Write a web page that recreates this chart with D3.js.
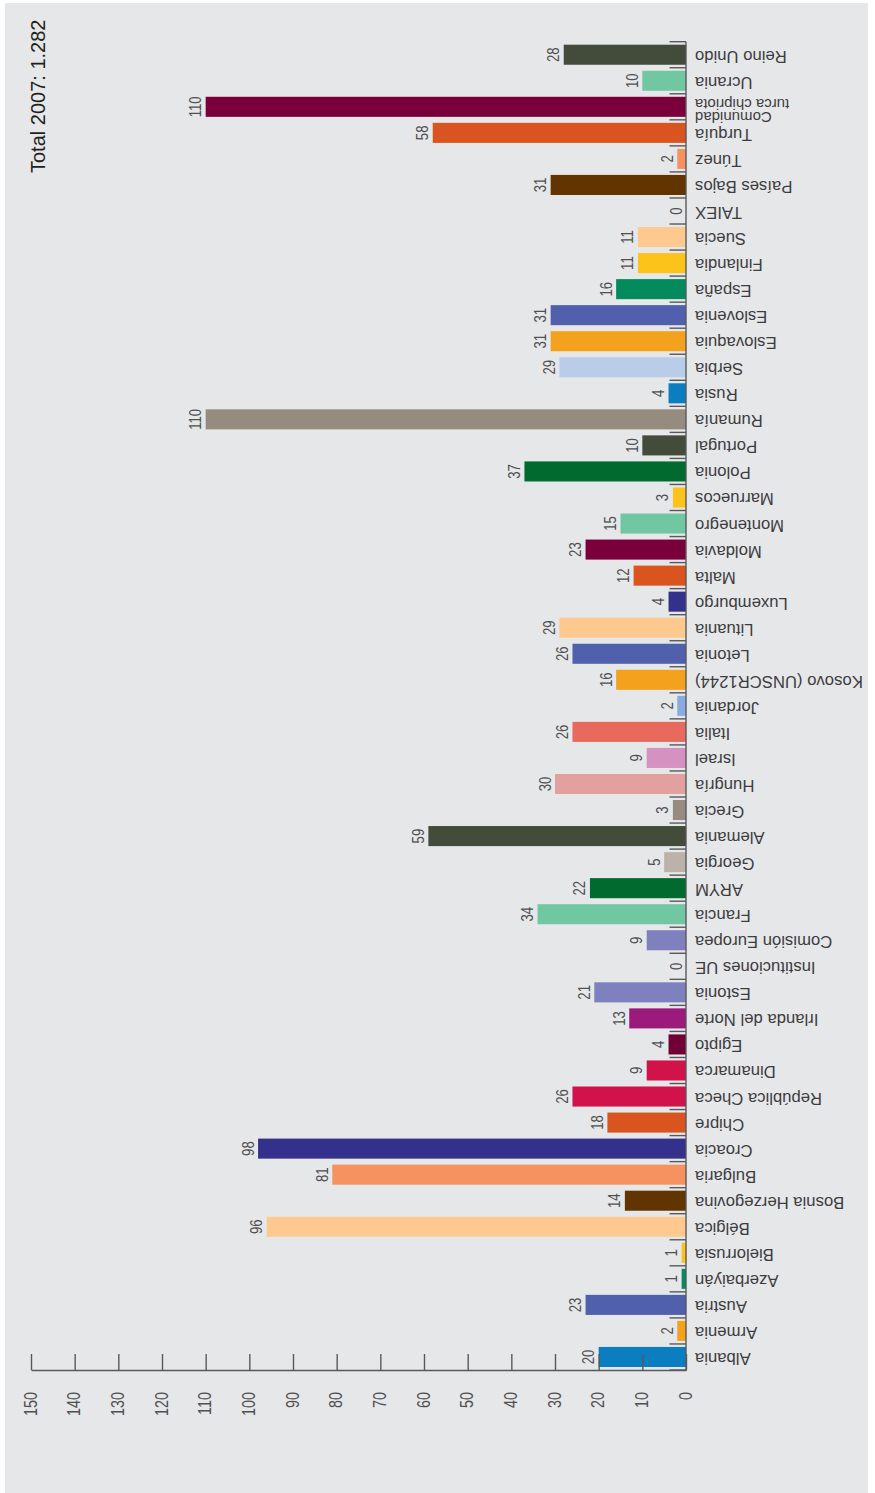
<!DOCTYPE html>
<html>
<head>
<meta charset="utf-8">
<script src="https://cdn.jsdelivr.net/npm/d3@7"></script>
<style>
  html, body { margin: 0; padding: 0; background: #ffffff; }
  svg { display: block; }
  text { font-family: "Liberation Sans", Arial, sans-serif; }
</style>
</head>
<body>
<svg id="chart" width="875" height="1493"></svg>
<script>
// Participantes por país / institución, 2007
const categories = [
  "Albania", "Armenia", "Austria", "Azerbaiyán", "Bielorrusia", "Bélgica",
  "Bosnia Herzegovina", "Bulgaria", "Croacia", "Chipre", "República Checa",
  "Dinamarca", "Egipto", "Irlanda del Norte", "Estonia", "Instituciones UE",
  "Comisión Europea", "Francia", "ARYM", "Georgia", "Alemania", "Grecia",
  "Hungría", "Israel", "Italia", "Jordania", "Kosovo (UNSCR1244)", "Letonia",
  "Lituania", "Luxemburgo", "Malta", "Moldavia", "Montenegro", "Marruecos",
  "Polonia", "Portugal", "Rumanía", "Rusia", "Serbia", "Eslovaquia",
  "Eslovenia", "España", "Finlandia", "Suecia", "TAIEX", "Países Bajos",
  "Túnez", "Turquía", "Comunidad\nturca chipriota", "Ucrania", "Reino Unido"
];

const values = [
  20, 2, 23, 1, 1, 96,
  14, 81, 98, 18, 26,
  9, 4, 13, 21, 0,
  9, 34, 22, 5, 59, 3,
  30, 9, 26, 2, 16, 26,
  29, 4, 12, 23, 15, 3,
  37, 10, 110, 4, 29, 31,
  31, 16, 11, 11, 0, 31,
  2, 58, 110, 10, 28
];

const colors = [
  "#0b7dc1", "#f4a11d", "#5060ac", "#038b5e", "#fcc31a", "#fdc98f",
  "#623400", "#f69160", "#33318b", "#da541f", "#d2124a",
  "#d2124a", "#700035", "#9d1a7d", "#7f81be", "#7f81be",
  "#7f81be", "#72c7a3", "#016b2f", "#bcb2a9", "#434b3a", "#968b7f",
  "#e2a19f", "#d591bf", "#e86a5c", "#89acde", "#f4a11d", "#5060ac",
  "#fdc98f", "#33318b", "#da541f", "#7a003b", "#72c7a3", "#fcc31a",
  "#016b2f", "#434b3a", "#968b7f", "#0b7dc1", "#b9cde9", "#f4a11d",
  "#5060ac", "#038b5e", "#fcc31a", "#fdc98f", "#fdc98f", "#623400",
  "#f69160", "#da541f", "#7a003b", "#72c7a3", "#434b3a"
];

const axisTicks = [0, 10, 20, 30, 40, 50, 60, 70, 80, 90, 100, 110, 120, 130, 140, 150];
const title = "Total 2007: 1.282";

const data = categories.map((c, i) => ({ cat: c, value: values[i], color: colors[i] }));

const svg = d3.select("#chart");

// panel background
svg.append("rect")
  .attr("x", 5).attr("y", 3)
  .attr("width", 863).attr("height", 1490)
  .attr("fill", "#e6e7e9");

// value axis runs right-to-left, categories run bottom-to-top
const x = d3.scaleLinear().domain([0, 150]).range([686, 31]);
const y = d3.scaleBand()
  .domain(categories)
  .range([1370, 41.7])
  .paddingInner(0.23)
  .paddingOuter(0.115);

const axisColor = "#58595b";
const narrow = 0.82;

// small separators between categories along the baseline
const step = y.step();
const boundaries = d3.range(categories.length + 1).map(i => 1370 - i * step);
svg.append("g")
  .selectAll("line")
  .data(boundaries)
  .join("line")
  .attr("x1", x(0) - 16.5).attr("x2", x(0))
  .attr("y1", d => d).attr("y2", d => d)
  .attr("stroke", axisColor)
  .attr("stroke-width", 1.4);

// bars
svg.append("g")
  .selectAll("rect")
  .data(data.filter(d => d.value > 0))
  .join("rect")
  .attr("x", d => x(d.value))
  .attr("y", d => y(d.cat))
  .attr("width", d => x(0) - x(d.value))
  .attr("height", y.bandwidth())
  .attr("fill", d => d.color);

// value axis
const axis = d3.axisBottom(x)
  .tickValues(axisTicks)
  .tickSize(-16)
  .tickSizeOuter(0)
  .tickFormat(d3.format("d"));

const gx = svg.append("g")
  .attr("transform", "translate(0,1370)")
  .call(axis);
gx.select(".domain").attr("stroke", axisColor).attr("stroke-width", 1.4);
gx.selectAll(".tick line").attr("stroke", axisColor).attr("stroke-width", 1.4);
gx.selectAll(".tick text")
  .attr("fill", "#505052")
  .attr("font-size", 17.5)
  .attr("font-family", "'Liberation Sans', Arial, sans-serif")
  .attr("text-anchor", "end")
  .attr("dy", null)
  .attr("y", null)
  .attr("transform", "translate(5,22) rotate(-90) scale(" + narrow + ",1)");

// category baseline (vertical)
svg.append("line")
  .attr("x1", x(0)).attr("x2", x(0))
  .attr("y1", 41.7).attr("y2", 1370.7)
  .attr("stroke", axisColor)
  .attr("stroke-width", 1.4);

// value labels
svg.append("g")
  .selectAll("text")
  .data(data)
  .join("text")
  .attr("transform", d =>
    `translate(${x(d.value) - 4.5},${y(d.cat) + y.bandwidth() / 2}) rotate(-90) scale(${narrow},1)`)
  .attr("text-anchor", "middle")
  .attr("font-size", 16)
  .attr("fill", "#505052")
  .text(d => d.value);

// category labels (upside-down)
const catLabels = svg.append("g")
  .selectAll("text")
  .data(data)
  .join("text")
  .attr("transform", d =>
    `translate(695,${y(d.cat) + y.bandwidth() / 2}) rotate(180)`)
  .attr("text-anchor", "end")
  .attr("font-size", d => d.cat.includes("\n") ? 15 : 16.7)
  .attr("fill", "#3d3d3f");

catLabels.each(function (d) {
  const lines = d.cat.split("\n");
  const t = d3.select(this);
  const start = lines.length === 1 ? 4 : -5;
  lines.forEach((ln, i) => {
    t.append("tspan")
      .attr("x", 0)
      .attr("y", start + i * 13)
      .text(ln);
  });
});

// title
svg.append("text")
  .attr("transform", "translate(45,173) rotate(-90)")
  .attr("text-anchor", "start")
  .attr("font-size", 20)
  .attr("fill", "#231f20")
  .text(title);
</script>
</body>
</html>
